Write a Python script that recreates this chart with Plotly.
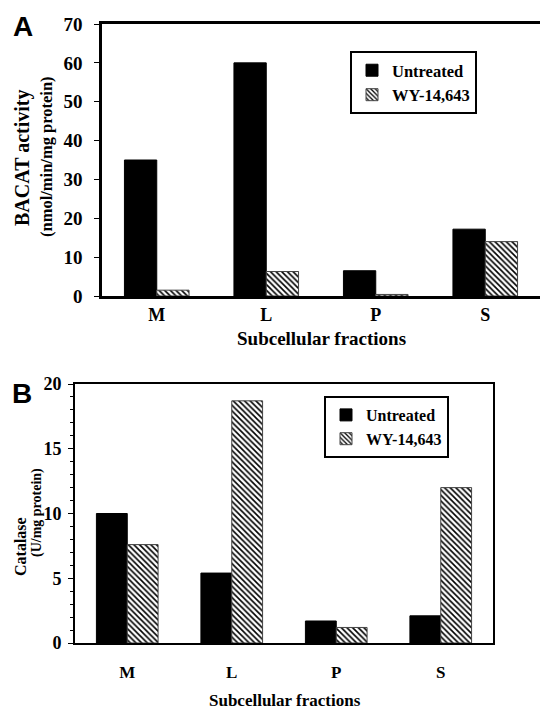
import plotly.graph_objects as go

fractions = ["M", "L", "P", "S"]
bacat_untreated = [35, 60, 6.5, 17.2]
bacat_wy = [1.5, 6.3, 0.4, 14]
catalase_untreated = [10, 5.4, 1.7, 2.1]
catalase_wy = [7.6, 18.7, 1.2, 12]
series_names = ["Untreated", "WY-14,643"]

W, H = 540, 712
SERIF = "Liberation Serif"

def px_x(x):
    return x / W

def px_y(y):
    return 1 - y / H

hatch = dict(shape="\\", fgcolor="black", bgcolor="white", size=4, solidity=0.4)

fig = go.Figure()
fig.add_trace(go.Bar(x=fractions, y=bacat_untreated, name=series_names[0],
                     marker=dict(color="black", line=dict(color="black", width=1)),
                     xaxis="x", yaxis="y", legend="legend"))
fig.add_trace(go.Bar(x=fractions, y=bacat_wy, name=series_names[1],
                     marker=dict(color="white", pattern=hatch, line=dict(color="#444", width=1)),
                     xaxis="x", yaxis="y", legend="legend"))
fig.add_trace(go.Bar(x=fractions, y=catalase_untreated, name=series_names[0],
                     marker=dict(color="black", line=dict(color="black", width=1)),
                     xaxis="x2", yaxis="y2", legend="legend2"))
fig.add_trace(go.Bar(x=fractions, y=catalase_wy, name=series_names[1],
                     marker=dict(color="white", pattern=hatch, line=dict(color="#444", width=1)),
                     xaxis="x2", yaxis="y2", legend="legend2"))

fig.update_layout(
    template="none",
    width=W, height=H,
    margin=dict(l=0, r=0, t=0, b=0, autoexpand=False),
    paper_bgcolor="white", plot_bgcolor="white",
    barmode="group", bargap=0.41, bargroupgap=0,
    font=dict(family=SERIF, color="black"),
    xaxis=dict(domain=[px_x(102), 1.0], anchor="y", range=[-0.5, 3.5], automargin=False,
               showline=True, linecolor="black", linewidth=2.5, mirror=True,
               ticks="", tickfont=dict(family=SERIF, size=18, color="black", weight="bold"),
               ticklabelstandoff=1, showgrid=False, zeroline=False),
    yaxis=dict(domain=[px_y(296), px_y(24)], anchor="x", range=[0, 70], dtick=10, automargin=False,
               showline=True, linecolor="black", linewidth=2.5,
               ticks="outside", ticklen=5, tickwidth=1, tickcolor="black",
               tickfont=dict(family=SERIF, size=19, color="black", weight="bold"),
               ticklabelstandoff=8, showgrid=False, zeroline=False),
    xaxis2=dict(domain=[px_x(75), px_x(493)], anchor="y2", range=[-0.5, 3.5], automargin=False,
                showline=True, linecolor="black", linewidth=2, mirror=True,
                ticks="", tickfont=dict(family=SERIF, size=17, color="black", weight="bold"),
                ticklabelstandoff=13, showgrid=False, zeroline=False),
    yaxis2=dict(domain=[px_y(643), px_y(384)], anchor="x2", range=[0, 20], dtick=5, automargin=False,
                showline=True, linecolor="black", linewidth=2, mirror=True,
                ticks="outside", ticklen=5, tickwidth=1, tickcolor="black",
                minor=dict(dtick=1, ticks="outside", ticklen=3, tickcolor="black", tickwidth=1, showgrid=False),
                tickfont=dict(family=SERIF, size=18, color="black", weight="bold"),
                ticklabelstandoff=3, showgrid=False, zeroline=False),
    legend=dict(x=px_x(350), y=px_y(51), xanchor="left", yanchor="top",
                bordercolor="black", borderwidth=2, bgcolor="white",
                font=dict(family=SERIF, size=16.5, color="black", weight="bold"),
                tracegroupgap=0, itemwidth=30),
    legend2=dict(x=px_x(324), y=px_y(396), xanchor="left", yanchor="top",
                 bordercolor="black", borderwidth=2, bgcolor="white",
                 font=dict(family=SERIF, size=16, color="black", weight="bold"),
                 tracegroupgap=0, itemwidth=30),
    showlegend=True,
)

annotations = [
    dict(text="A", x=px_x(23), y=px_y(26), font=dict(family="Liberation Sans", size=28, weight="bold")),
    dict(text="B", x=px_x(22), y=px_y(393), font=dict(family="Liberation Sans", size=28, weight="bold")),
    dict(text="BACAT activity", x=px_x(22), y=px_y(158), textangle=-90,
         font=dict(family=SERIF, size=20, weight="bold")),
    dict(text="(nmol/min/mg protein)", x=px_x(46), y=px_y(157), textangle=-90,
         font=dict(family=SERIF, size=16.5, weight="bold")),
    dict(text="Subcellular fractions", x=px_x(321), y=px_y(338),
         font=dict(family=SERIF, size=19, weight="bold")),
    dict(text="Catalase", x=px_x(20), y=px_y(547), textangle=-90,
         font=dict(family=SERIF, size=16, weight="bold")),
    dict(text="(U/mg protein)", x=px_x(37), y=px_y(513), textangle=-90,
         font=dict(family=SERIF, size=14, weight="bold")),
    dict(text="Subcellular fractions", x=px_x(285), y=px_y(700),
         font=dict(family=SERIF, size=17, weight="bold")),
]
for a in annotations:
    a.update(xref="paper", yref="paper", showarrow=False, xanchor="center", yanchor="middle")
    a["font"].setdefault("color", "black")
fig.update_layout(annotations=annotations)

# remove the default page margin so the 540x712 figure fills the window exactly
fig.write_html("out.html", config={"displayModeBar": False},
               post_script="document.body.style.margin='0';document.body.style.overflow='hidden';")
